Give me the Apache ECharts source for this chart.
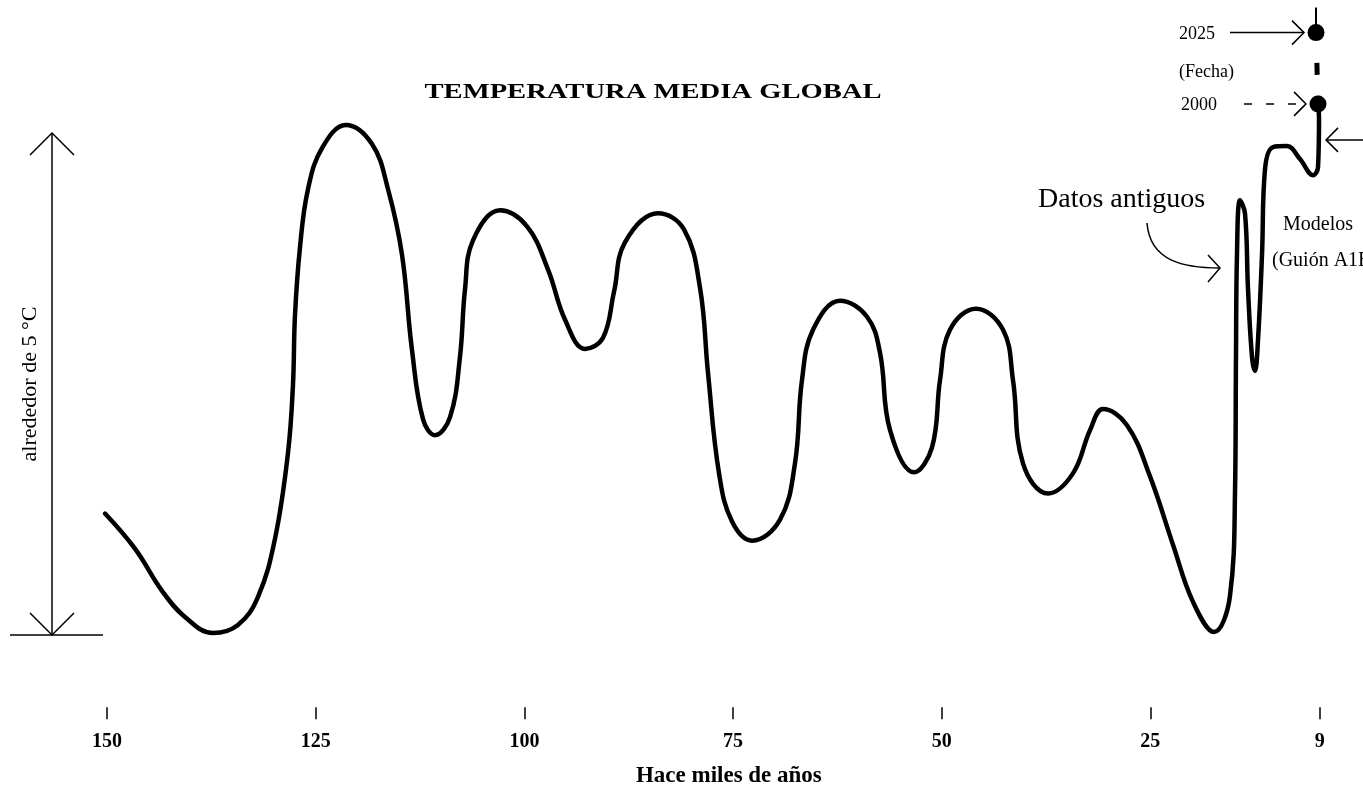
<!DOCTYPE html>
<html>
<head>
<meta charset="utf-8">
<script src="https://cdn.jsdelivr.net/npm/echarts@6/dist/echarts.min.js"></script>
<style>
html,body{margin:0;padding:0;background:#fff;}
#chart{width:1363px;height:791px;}
</style>
</head>
<body>
<div id="chart"></div>
<script>
// ---- data (thousands of years ago, temperature in °C above the glacial minimum) ----
const pastKyr = [150.25,146.66,143.42,140.67,137.31,134.32,131.92,129.88,128.33,127.73,127.49,126.89,125.93,124.25,121.4,118.26,116.34,114.67,113.47,112.15,110.71,108.91,107.72,107.12,106.16,102.92,99.69,97.17,95.13,92.74,90.58,89.26,87.95,83.99,80.88,78.96,78.00,76.68,75.12,72.73,69.37,67.58,66.74,65.42,62.19,58.95,57.39,56.19,53.32,51.16,50.20,49.01,45.89,42.65,41.46,40.26,37.26,34.27,32.23,30.67,27.80,25.04,22.29,19.89,17.37,15.46,14.86,14.74,14.62,14.26,13.66,13.30,12.82,12.46,12.10,11.62,11.26,10.30,8.63,7.07,5.51,4.91,4.79];
const pastTemp = [1.21,0.86,0.44,0.18,0.02,0.10,0.38,0.96,1.81,2.49,3.18,3.86,4.44,4.85,5.08,4.89,4.44,3.79,2.84,2.15,1.99,2.17,2.77,3.44,3.93,4.23,4.07,3.64,3.14,2.85,2.96,3.42,3.91,4.20,4.04,3.46,2.61,1.61,1.13,0.94,1.15,1.71,2.54,3.04,3.33,3.17,2.81,2.04,1.62,1.87,2.54,3.04,3.25,3.04,2.54,1.71,1.41,1.61,2.04,2.25,2.09,1.58,0.90,0.33,0.03,0.39,1.40,2.77,3.79,4.33,4.20,3.45,2.77,2.63,2.94,3.79,4.64,4.86,4.87,4.74,4.58,4.66,5.15];
const projKyr = [4.91, 5.15];
const projTemp = [5.29, 6.00];
const projLabels = ['2000', '2025'];
const projNote = '(Fecha)';
const stemKyr = [5.15, 5.15];
const stemTemp = [6.00, 6.25];
const tickValues = [150, 125, 100, 75, 50, 25, 4.7];
const tickLabels = ['150', '125', '100', '75', '50', '25', '9'];
const rangeLow = 0;
const rangeHigh = 5;
const titleText = 'TEMPERATURA MEDIA GLOBAL';
const xName = 'Hace miles de años';
const yName = 'alrededor de 5 °C';
const notePast = 'Datos antiguos';
const noteModel = ['Modelos', '(Guión A1B)'];

// ---- chart ----
const FONT = '"Liberation Serif", "DejaVu Serif", serif';
const chart = echarts.init(document.getElementById('chart'));

const pastData = pastKyr.map((k, i) => [k, pastTemp[i]]).concat([[projKyr[0], projTemp[0]]]);
const projData = projKyr.map((k, i) => [k, projTemp[i]]);
const stemData = stemKyr.map((k, i) => [k, stemTemp[i]]);

chart.setOption({
  animation: false,
  backgroundColor: '#fff',
  grid: {left: 98.75, right: 4, top: 2.5, bottom: 83.7, containLabel: false, outerBoundsMode: 'none'},
  xAxis: {
    type: 'value', inverse: true, min: 0, max: 151,
    name: xName, nameLocation: 'middle', nameGap: 57,
    nameTextStyle: {fontFamily: FONT, fontSize: 23, fontWeight: 'bold', color: '#000'},
    axisLine: {show: false, onZero: false},
    splitLine: {show: false},
    axisTick: {show: true, customValues: tickValues, length: 12, lineStyle: {color: '#000', width: 1.5}},
    axisLabel: {
      customValues: tickValues, margin: 25,
      fontFamily: FONT, fontSize: 20, fontWeight: 'bold', color: '#000',
      formatter: v => { const i = tickValues.indexOf(v); return i >= 0 ? tickLabels[i] : ''; }
    }
  },
  yAxis: {type: 'value', min: -0.72, max: 6.3, show: false},
  series: [
    {
      name: 'Datos antiguos', type: 'line', data: pastData, smooth: 0.4,
      symbol: 'none', clip: false, silent: true,
      lineStyle: {color: '#000', width: 4.5, cap: 'round', join: 'round'}
    },
    {
      name: 'Proyección', type: 'line', data: projData, clip: false, silent: true,
      symbol: 'circle', symbolSize: 17, showSymbol: true,
      itemStyle: {color: '#000'},
      lineStyle: {color: '#000', width: 5, type: [8, 21, 12, 40]}
    },
    {
      name: 'stem', type: 'line', data: stemData, clip: false, silent: true, symbol: 'none', z: 1,
      lineStyle: {color: '#000', width: 2}
    }
  ]
});

// ---- annotations ----
const py = v => chart.convertToPixel({yAxisIndex: 0}, v);
const pxy = (k, t) => chart.convertToPixel({gridIndex: 0}, [k, t]);
const ST = {stroke: '#000', lineWidth: 1.5, fill: null};
const line = (x1, y1, x2, y2, extra) => ({type: 'line', silent: true, shape: {x1, y1, x2, y2}, style: Object.assign({}, ST, extra || {})});
const poly = pts => ({type: 'polyline', silent: true, shape: {points: pts}, style: Object.assign({}, ST)});
const text = (x, y, str, size, opts) => ({
  type: 'text', silent: true, x, y,
  style: Object.assign({text: str, fontFamily: FONT, fontSize: size, fill: '#000', align: 'left', verticalAlign: 'middle'}, opts || {})
});

// title scale to match the wide lettering
const cv = document.createElement('canvas').getContext('2d');
cv.font = 'bold 22px "Liberation Serif"';
const titleW = cv.measureText(titleText).width || 353;
const titleScale = 457 / titleW;

const yTop = py(rangeHigh), yBot = py(rangeLow);
const ax = 52;
const p2000 = pxy(projKyr[0], projTemp[0]);
const p2025 = pxy(projKyr[1], projTemp[1]);

const g = [];
// title
g.push(Object.assign(text(653, 92, titleText, 22, {fontWeight: 'bold', align: 'center'}), {scaleX: titleScale}));
// double arrow for 5 °C range
g.push(line(ax, yTop, ax, yBot));
g.push(poly([[ax - 22, yTop + 22], [ax, yTop], [ax + 22, yTop + 22]]));
g.push(poly([[ax - 22, yBot - 22], [ax, yBot], [ax + 22, yBot - 22]]));
g.push(line(10, yBot, 103, yBot));
g.push(Object.assign(text(30, (yTop + yBot) / 2, yName, 22, {align: 'center'}), {rotation: Math.PI / 2}));
// 2025 label + arrow
g.push(text(p2025[0] - 137, p2025[1] + 2, projLabels[1], 18));
g.push(line(p2025[0] - 86, p2025[1], p2025[0] - 12, p2025[1]));
g.push(poly([[p2025[0] - 24, p2025[1] - 12], [p2025[0] - 12, p2025[1]], [p2025[0] - 24, p2025[1] + 12]]));
// (Fecha)
g.push(text(p2025[0] - 137, (p2025[1] + p2000[1]) / 2 + 4, projNote, 18));
// 2000 label + dashed arrow
g.push(text(p2000[0] - 137, p2000[1] + 1, projLabels[0], 18));
g.push(line(p2000[0] - 74, p2000[1], p2000[0] - 12, p2000[1], {lineDash: [8, 14]}));
g.push(poly([[p2000[0] - 24, p2000[1] - 12], [p2000[0] - 12, p2000[1]], [p2000[0] - 24, p2000[1] + 12]]));
// arrow pointing at the modelled rise
const la = [p2000[0] + 8, p2000[1] + 36];
g.push(line(la[0], la[1], 1365, la[1]));
g.push(poly([[la[0] + 12, la[1] - 12], la, [la[0] + 12, la[1] + 12]]));
// "Datos antiguos" + curved arrow
g.push(text(1038, 200, notePast, 28));
g.push({type: 'bezierCurve', silent: true,
  shape: {x1: 1147, y1: 223, x2: 1220, y2: 268, cpx1: 1150, cpy1: 262, cpx2: 1185, cpy2: 268},
  style: Object.assign({}, ST)});
g.push(poly([[1208, 255], [1220, 268], [1208, 282]]));
// Modelos (Guión ...)
g.push(text(1283, 225, noteModel[0], 20));
g.push(text(1272, 261, noteModel[1], 20));

chart.setOption({graphic: {elements: g}});
</script>
</body>
</html>
